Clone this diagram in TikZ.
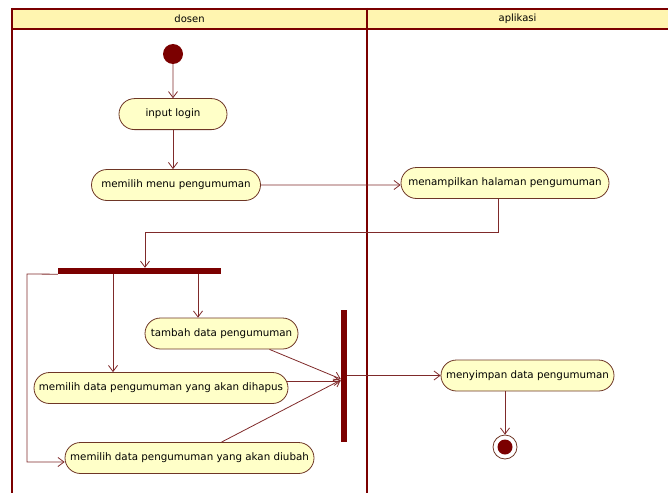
\documentclass[tikz,border=0pt]{standalone}
\usepackage{fontspec}
\setmainfont{DejaVu Sans}
\usetikzlibrary{positioning,arrows.meta,shapes.misc}
\definecolor{laneRed}{HTML}{7B0000}
\definecolor{actLine}{HTML}{6E3626}
\definecolor{actFill}{HTML}{FFFFC8}
\definecolor{headFill}{HTML}{FFF5B0}
\definecolor{flowRed}{HTML}{7F2A2A}
\tikzset{
  x=1pt, y=-1pt,
  node distance=34pt and 20pt,
  act/.style={rounded rectangle, draw=actLine, line width=0.8pt, fill=actFill,
              font=\fontsize{10.3}{12}\selectfont, minimum height=31pt, inner xsep=6pt},
  bar/.style={draw=none, fill=laneRed, inner sep=0pt},
  initstate/.style={circle, fill=laneRed, minimum size=20pt, inner sep=0pt},
  endstate/.style={circle, draw=actLine, line width=0.8pt, fill=white, minimum size=24pt, inner sep=0pt,
                   path picture={\fill[laneRed] (path picture bounding box.center) circle (7.5pt);}},
  lanehead/.style={font=\fontsize{10}{12}\selectfont, inner sep=1pt},
  lane/.style={draw=laneRed, line width=2.5pt},
  laneh/.style={draw=laneRed, line width=2pt},
  flow/.style={-{Straight Barb[length=6pt,width=9pt]}, flowRed, line width=0.8pt},
}
\begin{document}
\begin{tikzpicture}
    \useasboundingbox (0,0) rectangle (668,492);
    \clip (0,0) rectangle (668,492);

    % swimlanes
    \fill[headFill] (12,9) rectangle (680,29);
    \node[lanehead] (hdosen) at (189.5,19) {dosen};
    \node[lanehead] (haplikasi) at (517.5,19) {aplikasi};
    \draw[laneh] (680,9) -- (12,9);
    \draw[laneh] (12,29) -- (680,29);
    \draw[lane] (12,8) -- (12,500);
    \draw[lane] (367,8) -- (367,500);

    % dosen
    \node[initstate] (start) at (173,54) {};
    \node[act, minimum width=120pt, below=34pt of start] (login) {input login};
    \node[act, minimum width=181pt] (menu) at (176,185) {memilih menu pengumuman};
    \node[bar, minimum width=163pt, minimum height=6pt] (fork) at (139.5,271) {};
    \node[act, minimum width=165pt] (tambah) at (221.5,333.5) {tambah data pengumuman};
    \node[act, minimum width=266pt] (hapus) at (161,388) {memilih data pengumuman yang akan dihapus};
    \node[act, minimum width=261pt] (ubah) at (189.5,458) {memilih data pengumuman yang akan diubah};
    \node[bar, minimum width=6pt, minimum height=132pt] (join) at (344,376) {};

    % aplikasi
    \node[act, minimum width=220pt] (tampil) at (505,183) {menampilkan halaman pengumuman};
    \node[act, minimum width=185pt] (simpan) at (527.5,375.5) {menyimpan data pengumuman};
    \node[endstate] (finish) at (505,447) {};

    \draw[flow] (start) -- (login);
    \draw[flow] (login) -- (login |- menu.north);
    \draw[flow] (menu) -- (menu -| tampil.west);
    \coordinate (turn) at (145,232);
    \draw[flow] ([xshift=-7pt]tampil.south) |- (turn) -- (turn |- fork.north);
    \draw[flow] ([xshift=-23.5pt]tambah.north |- fork.south) -- ([xshift=-23.5pt]tambah.north);
    \draw[flow] ([xshift=-48pt]hapus.north |- fork.south) -- ([xshift=-48pt]hapus.north);
    \coordinate (loop) at (27,274);
    \draw[flow] (fork.south west) -- (loop) |- ([yshift=-4pt]ubah.west);
    \draw[flow] ([xshift=48pt]tambah.south) -- ([yshift=-3pt]join.west);
    \draw[flow] ([yshift=7pt,xshift=-1.5pt]hapus.east) -- ([yshift=7pt]hapus.east -| join.west);
    \draw[flow] ([xshift=32pt]ubah.north) -- ([yshift=-4pt]join.west);
    \draw[flow] (join.east |- simpan.west) -- (simpan.west);
    \draw[flow] (finish |- simpan.south) -- (finish);
\end{tikzpicture}
\end{document}
